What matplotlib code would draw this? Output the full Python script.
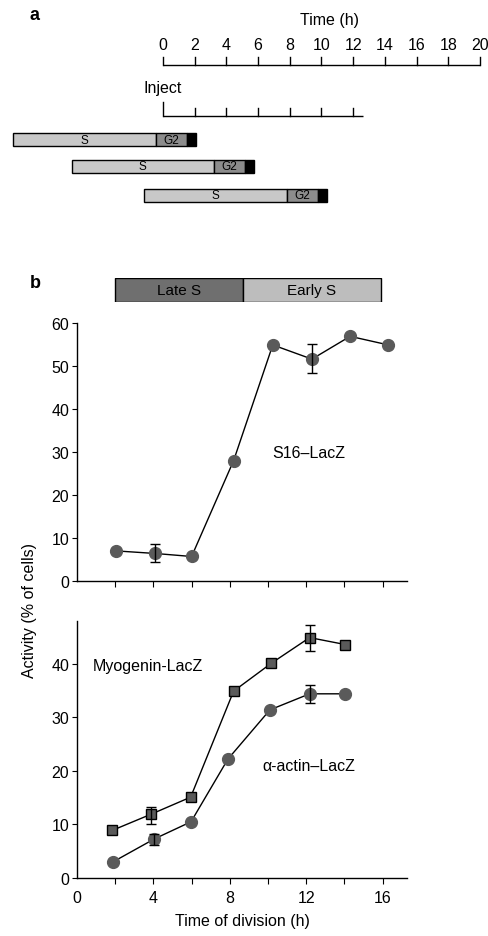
import numpy as np
import matplotlib
matplotlib.use("Agg")
import matplotlib.pyplot as plt

plt.rcParams['font.family'] = ['Liberation Sans', 'DejaVu Sans']

# ---------------- data ----------------
# panel a: time axis and cell-cycle bars (hours)
time_ticks = list(range(0, 21, 2))
inject_ticks = list(range(0, 13, 2))
inject_end = 12.6
cell_start = [-9.45, -5.75, -1.2]
s_dur = [9.0, 8.95, 9.0]
g2_dur = [1.95, 2.0, 1.95]
m_dur = [0.57, 0.56, 0.57]

# panel b: phase bar
phase_labels = ['Late S', 'Early S']
phase_bounds = [2.0, 8.7, 15.9]

# S16-LacZ
s16_x = [2.05, 4.1, 6.0, 8.2, 10.25, 12.3, 14.3, 16.3]
s16_y = [7.0, 6.4, 5.7, 28.0, 54.9, 51.6, 56.9, 54.9]
s16_err_lo = [0, 1.9, 0, 0, 0, 3.3, 0, 0]
s16_err_hi = [0, 2.1, 0, 0, 0, 3.5, 0, 0]

# Myogenin-LacZ
myo_x = [1.85, 3.87, 5.95, 8.2, 10.17, 12.18, 14.05]
myo_y = [8.9, 11.9, 15.1, 34.9, 40.1, 44.9, 43.6]
myo_err_lo = [0, 1.8, 0, 0, 0, 2.5, 0]
myo_err_hi = [0, 1.4, 0, 0, 0, 2.4, 0]

# alpha-actin-LacZ
act_x = [1.88, 4.05, 5.97, 7.9, 10.1, 12.18, 14.03]
act_y = [3.0, 7.3, 10.5, 22.2, 31.4, 34.4, 34.4]
act_err_lo = [0, 1.1, 0, 0, 0, 1.7, 0]
act_err_hi = [0, 0.9, 0, 0, 0, 1.6, 0]

# ---------------- figure ----------------
W, H = 489, 937
fig = plt.figure(figsize=(W / 100, H / 100), dpi=100)

def px_axes(left, top, right, bottom):
    return fig.add_axes([left / W, 1 - bottom / H, (right - left) / W, (bottom - top) / H])

# ----- panel a -----
axa = px_axes(0, 0, W, 230)
px_per_h = 15.85
x0 = 163
axa.set_xlim(-x0 / px_per_h, (W - x0) / px_per_h)
axa.set_ylim(230, 0)
axa.axis('off')

lw = 1.0
# time axis
axis_y = 66
axa.plot([time_ticks[0], time_ticks[-1]], [axis_y, axis_y], color='black', lw=lw, solid_capstyle='butt')
for t in time_ticks:
    axa.plot([t, t], [axis_y, axis_y - 8], color='black', lw=lw)
    axa.text(t, 45, str(t), ha='center', va='center', fontsize=11.5)
axa.text(10.5, 20, 'Time (h)', ha='center', va='center', fontsize=11.5)

# inject axis
inj_y = 117
axa.plot([0, inject_end], [inj_y, inj_y], color='black', lw=lw, solid_capstyle='butt')
for t in inject_ticks:
    top = inj_y - 14 if t == 0 else inj_y - 8
    axa.plot([t, t], [inj_y, top], color='black', lw=lw)
axa.text(0, 89, 'Inject', ha='center', va='center', fontsize=11.5)

# cell bars
row_y = [140.5, 167.0, 196.0]
bh = 13
for st, s, g, m, yy in zip(cell_start, s_dur, g2_dur, m_dur, row_y):
    axa.barh(yy, s, left=st, height=bh, color='#c8c8c8', edgecolor='black', linewidth=1.0)
    axa.barh(yy, g, left=st + s, height=bh, color='#8c8c8c', edgecolor='black', linewidth=1.0)
    axa.barh(yy, m, left=st + s + g, height=bh, color='black', edgecolor='black', linewidth=1.0)
    axa.text(st + s / 2, yy, 'S', ha='center', va='center', fontsize=8.5)
    axa.text(st + s + g / 2, yy, 'G2', ha='center', va='center', fontsize=8.5)

fig.text(35 / W, 1 - 15 / H, 'a', fontsize=13, fontweight='bold', ha='center', va='center')
fig.text(35 / W, 1 - 283 / H, 'b', fontsize=13, fontweight='bold', ha='center', va='center')

# ----- panel b -----
xmax = 330 / 19.1
L, R = 77, 407

# phase bar
axp = px_axes(L, 279, R, 303)
axp.set_xlim(0, xmax)
axp.set_ylim(0, 1)
axp.axis('off')
phase_colors = ['#6f6f6f', '#bdbdbd']
for lab, a, b, c in zip(phase_labels, phase_bounds[:-1], phase_bounds[1:], phase_colors):
    axp.barh(0.5, b - a, left=a, height=1.0, color=c, edgecolor='black', linewidth=1.0)
    axp.text((a + b) / 2, 0.5, lab, ha='center', va='center', fontsize=11)

marker_col = '#5a5a5a'

def style_axis(ax, ylim, yticks):
    ax.set_xlim(0, xmax)
    ax.set_ylim(*ylim)
    for sp in ['top', 'right']:
        ax.spines[sp].set_visible(False)
    for sp in ['left', 'bottom']:
        ax.spines[sp].set_linewidth(1.0)
    ax.set_yticks(yticks)
    ax.tick_params(axis='y', direction='out', length=3.5, width=0.8, labelsize=11.5, pad=2)
    ax.tick_params(axis='x', which='both', direction='out', length=4.5, width=0.8, labelsize=11.5, pad=4)

def errbars(ax, x, y, lo, hi):
    idx = [i for i in range(len(x)) if lo[i] > 0 or hi[i] > 0]
    ax.errorbar([x[i] for i in idx], [y[i] for i in idx],
                yerr=[[lo[i] for i in idx], [hi[i] for i in idx]],
                fmt='none', ecolor='black', elinewidth=1.0, capsize=3.5, capthick=1.0, zorder=4)

# upper: S16-LacZ
ax1 = px_axes(L, 324, R, 582)
style_axis(ax1, (0, 60), range(0, 61, 10))
ax1.set_xticks(range(2, 17, 2))
ax1.set_xticklabels([])
ax1.plot(s16_x, s16_y, color='black', lw=1.0, zorder=2)
ax1.plot(s16_x, s16_y, 'o', ms=8.5, color=marker_col, mec=marker_col, zorder=3)
errbars(ax1, s16_x, s16_y, s16_err_lo, s16_err_hi)
ax1.text(10.2, 30, 'S16\u2013LacZ', ha='left', va='center', fontsize=11.5)
ax1.patch.set_alpha(0)

# lower: Myogenin / alpha-actin
ax2 = px_axes(L, 622, R, 879)
style_axis(ax2, (0, 48), range(0, 41, 10))
ax2.set_xticks([0, 4, 8, 12, 16])
ax2.set_xticks([2, 6, 10, 14], minor=True)
ax2.xaxis.get_major_ticks()[0].tick1line.set_visible(False)
ax2.plot(myo_x, myo_y, color='black', lw=1.0, zorder=2)
ax2.plot(myo_x, myo_y, 's', ms=6.5, color=marker_col, mec='black', mew=1.0, zorder=3)
errbars(ax2, myo_x, myo_y, myo_err_lo, myo_err_hi)
ax2.plot(act_x, act_y, color='black', lw=1.0, zorder=2)
ax2.plot(act_x, act_y, 'o', ms=8.5, color=marker_col, mec=marker_col, zorder=3)
errbars(ax2, act_x, act_y, act_err_lo, act_err_hi)
ax2.text(0.85, 39.7, 'Myogenin-LacZ', ha='left', va='center', fontsize=11.5)
ax2.text(9.7, 21.0, '\u03b1-actin\u2013LacZ', ha='left', va='center', fontsize=11.5)
ax2.set_xlabel('Time of division (h)', fontsize=11.5, labelpad=6)
ax2.patch.set_alpha(0)

fig.text(30 / W, 1 - 611 / H, 'Activity (% of cells)', rotation=90, ha='center', va='center', fontsize=11.5)

fig.savefig('out.png', dpi=100)
